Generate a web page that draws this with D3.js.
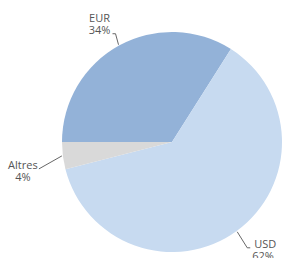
<!DOCTYPE html>
<meta charset="utf-8">
<script src="https://d3js.org/d3.v7.min.js"></script>
<style>
  body { margin: 0; background: #fff; }
  text { font-family: "Open Sans", sans-serif; font-size: 11px; fill: #555; }
</style>
<div id="pie_viz"></div>
<script>

// currency share of the portfolio
var currencies = ["EUR", "USD", "Altres"];
var shares = [34, 62, 4];
var colors = ["#93b2d8", "#c7daf0", "#d9d9d9"];

// where each label sits, as offsets from the point where its leader leaves the pie
// nameAbove: the name sits one line above the leader's end (otherwise the value goes below)
var labelLayout = {
  EUR:    {elbow: [-3, -11], tail: -3, text: [-13, 0], anchor: "middle", nameAbove: true},
  USD:    {elbow: [10, 16],  tail: 3,  text: [4, 0],   anchor: "start",  nameAbove: false},
  Altres: {elbow: [-23, 13], tail: 0,  text: [-16, 0], anchor: "middle", nameAbove: false}
};

var width = 284, height = 258,
    radius = 110,
    cx = 172, cy = 142,
    lineGap = 12;

var svg = d3.select("#pie_viz")
  .append("svg")
    .attr("width", width)
    .attr("height", height)
  .append("g")
    .attr("transform", "translate(" + cx + "," + cy + ")");

var data = currencies.map(function(c, i) { return {name: c, value: shares[i], color: colors[i]}; });

var pie = d3.pie()
  .sort(null)
  .value(function(d) { return d.value; })
  .startAngle(-Math.PI / 2)
  .endAngle(Math.PI * 1.5);

var arc = d3.arc()
  .innerRadius(0)
  .outerRadius(radius);

var slices = pie(data);

svg.selectAll("path.slice")
  .data(slices)
  .enter()
  .append("path")
    .attr("class", "slice")
    .attr("d", arc)
    .attr("fill", function(d) { return d.data.color; });

// point on the rim at the middle of a slice
function rim(d, r) {
  var a = (d.startAngle + d.endAngle) / 2;
  return [Math.sin(a) * r, -Math.cos(a) * r];
}

var labels = svg.selectAll("g.label")
  .data(slices)
  .enter()
  .append("g")
    .attr("class", "label");

labels.append("path")
  .attr("fill", "none")
  .attr("stroke", "#555")
  .attr("stroke-width", 0.9)
  .attr("d", function(d) {
    var L = labelLayout[d.data.name];
    var p0 = rim(d, radius + 1);
    var p1 = [p0[0] + L.elbow[0], p0[1] + L.elbow[1]];
    var p2 = [p1[0] + L.tail, p1[1]];
    return d3.line()([p0, p1, p2]);
  });

labels.append("text")
  .attr("text-anchor", function(d) { return labelLayout[d.data.name].anchor; })
  .attr("transform", function(d) {
    var L = labelLayout[d.data.name];
    var p0 = rim(d, radius + 1);
    var x = p0[0] + L.elbow[0] + L.tail + L.text[0];
    var y = p0[1] + L.elbow[1] + L.text[1];
    return "translate(" + x + "," + y + ")";
  })
  .each(function(d) {
    var L = labelLayout[d.data.name];
    var t = d3.select(this);
    var top = L.nameAbove ? -lineGap : 0;
    var dx2 = d.data.name === "USD" ? -2 : 0;
    t.append("tspan").attr("x", 0).attr("y", top).text(d.data.name);
    t.append("tspan").attr("x", dx2).attr("y", top + lineGap).text(d.data.value + "%");
  });

</script>
